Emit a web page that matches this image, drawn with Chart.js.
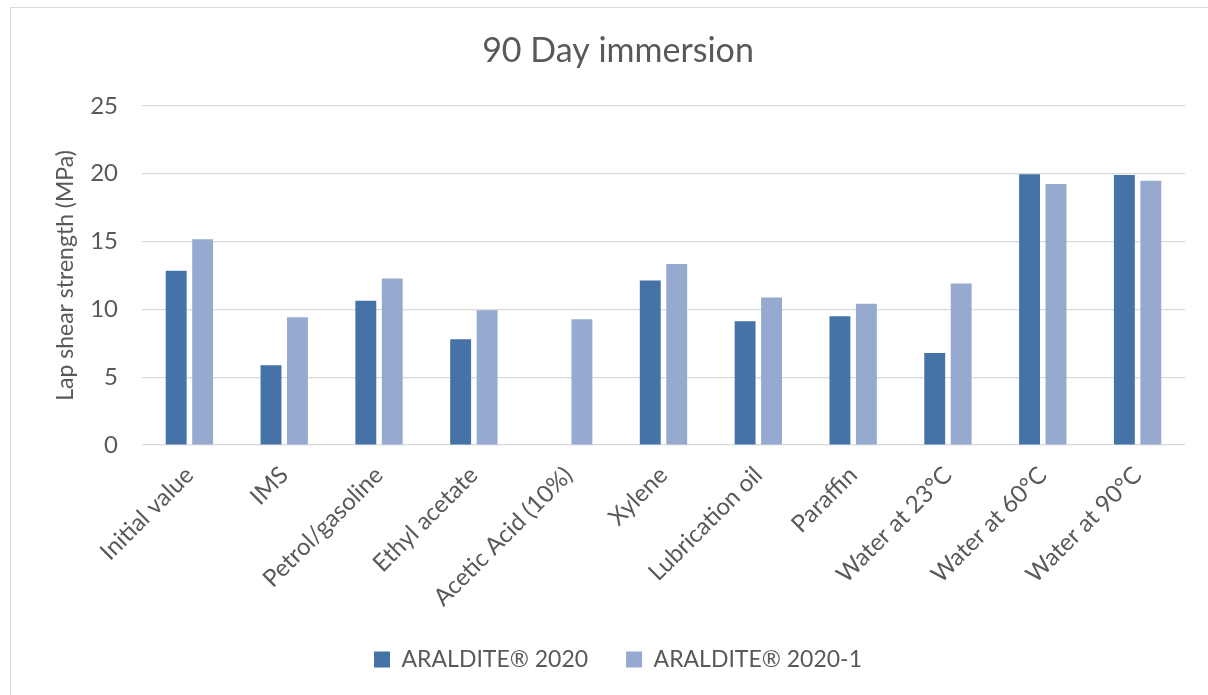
<!DOCTYPE html>
<html>
<head>
<meta charset="utf-8">
<script src="https://cdn.jsdelivr.net/npm/chart.js"></script>
<style>
  html, body { margin: 0; padding: 0; background: #fff; overflow: hidden; }
  #frame {
    position: absolute; left: 10px; top: 7px; width: 1300px; height: 800px;
    border: 1.5px solid #d9d9d9; box-sizing: border-box;
  }
  #wrap { position: absolute; left: 0; top: 0; width: 1208px; height: 695px; }
</style>
</head>
<body>
<div id="frame"></div>
<div id="wrap"><canvas id="myChart" width="1208" height="695"></canvas></div>
<script>
const categories = [
  'Initial value', 'IMS', 'Petrol/gasoline', 'Ethyl acetate', 'Acetic Acid (10%)',
  'Xylene', 'Lubrication oil', 'Paraffin', 'Water at 23°C', 'Water at 60°C', 'Water at 90°C'
];
const araldite2020 = [12.85, 5.87, 10.63, 7.79, null, 12.13, 9.12, 9.49, 6.78, 19.95, 19.9];
const araldite2020_1 = [15.16, 9.42, 12.28, 9.94, 9.27, 13.34, 10.88, 10.41, 11.91, 19.24, 19.48];
const yTicks = [0, 5, 10, 15, 20, 25];

const textColor = '#595959';
const fontFamily = 'Lato, "Open Sans", sans-serif';

Chart.defaults.font.family = fontFamily;
Chart.defaults.color = textColor;

const ctx = document.getElementById('myChart').getContext('2d');

new Chart(ctx, {
  type: 'bar',
  data: {
    labels: categories,
    datasets: [
      {
        label: 'ARALDITE® 2020',
        data: araldite2020,
        backgroundColor: '#4673a7',
        borderWidth: 0,
        categoryPercentage: 0.558,
        barPercentage: 0.79,
      },
      {
        label: 'ARALDITE® 2020-1',
        data: araldite2020_1,
        backgroundColor: '#96aad0',
        borderWidth: 0,
        categoryPercentage: 0.558,
        barPercentage: 0.79,
      },
    ],
  },
  options: {
    responsive: false,
    animation: false,
    layout: { padding: { left: 51, right: 23, top: 0, bottom: 14 } },
    scales: {
      x: {
        grid: { display: false },
        border: { display: false },
        ticks: {
          color: textColor,
          font: { size: 24 },
          minRotation: 45,
          maxRotation: 45,
          padding: 8,
          autoSkip: false,
        },
        afterFit: (scale) => { scale.height = 165; },
      },
      y: {
        min: 0,
        max: 25,
        afterBuildTicks: (scale) => { scale.ticks = yTicks.map((v) => ({ value: v })); },
        grid: { color: '#d9d9d9', lineWidth: 1.2, drawTicks: false },
        border: { display: false },
        ticks: { color: textColor, font: { size: 24 }, padding: 24 },
        title: {
          display: true,
          text: 'Lap shear strength (MPa)',
          color: textColor,
          font: { size: 23 },
          padding: { top: 1, bottom: 0 },
        },
        afterFit: (scale) => { scale.width = 91; },
      },
    },
    plugins: {
      title: {
        display: true,
        text: '90 Day immersion',
        color: textColor,
        font: { size: 34, weight: 'normal' },
        padding: { top: 31, bottom: 34 },
      },
      legend: {
        position: 'bottom',
        labels: {
          color: textColor,
          font: { size: 23 },
          boxWidth: 16,
          boxHeight: 16,
          padding: 38,
        },
      },
      tooltip: { enabled: false },
    },
  },
});
</script>
</body>
</html>
